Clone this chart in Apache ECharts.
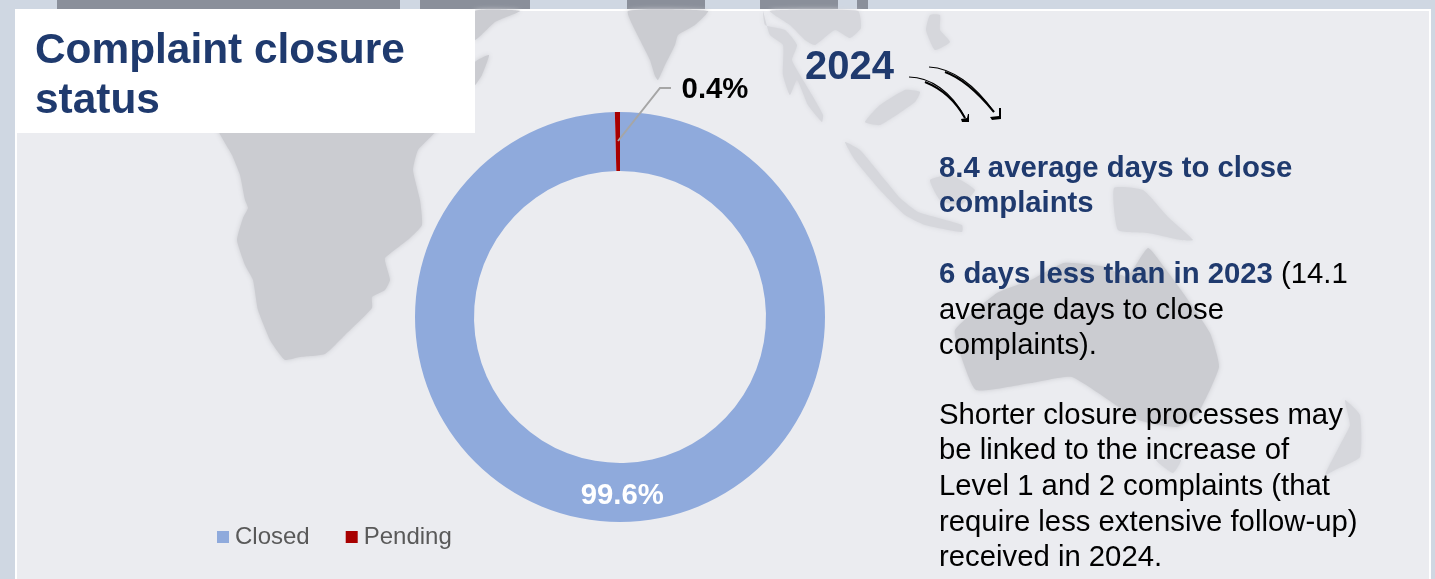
<!DOCTYPE html>
<html>
<head>
<meta charset="utf-8">
<title>Complaint closure status</title>
<script src="https://cdn.jsdelivr.net/npm/echarts@6/dist/echarts.min.js"></script>
<style>
html, body { margin: 0; padding: 0; background: #cfd7e2; }
#chart { width: 1435px; height: 579px; }
</style>
</head>
<body>
<div id="chart"></div>
<script>
var categories = ['Closed', 'Pending'];
var values = [99.6, 0.4];
var colors = ['#8faadc', '#a80000'];
var heading = 'Complaint closure\nstatus';
var yearLabel = '2024';
var para1 = ['8.4 average days to close', 'complaints'];
var para2Bold = '6 days less than in 2023';
var para2Rest = ' (14.1';
var para2 = ['average days to close', 'complaints).'];
var para3 = [
    'Shorter closure processes may',
    'be linked to the increase of',
    'Level 1 and 2 complaints (that',
    'require less extensive follow-up)',
    'received in 2024.'
];

var navy = '#1f3a6e';
var font = '"Liberation Sans", Arial, sans-serif';
var landColor = '#cbccd1';
var islandColor = '#d6d7dc';

// background map, just decoration behind the chart
var land = [
    { c: landColor, p: [[215,120],[232,155],[240,175],[245,200],[248,208],[243,218],[237,240],[245,265],[253,280],[258,310],[270,340],[278,352],[285,360],[300,357],[325,354],[345,335],[372,308],[372,297],[385,290],[390,280],[386,265],[385,258],[410,238],[422,225],[420,200],[413,170],[418,150],[440,125]] },
    { c: landColor, p: [[628,11],[640,40],[650,60],[655,76],[658,80],[665,65],[675,45],[678,35],[695,25],[708,11]] },
    { c: landColor, p: [[475,11],[520,11],[495,22],[475,40]] },
    { c: landColor, p: [[475,62],[489,55],[482,75],[475,85]] },
    { c: islandColor, p: [[763,11],[765,25],[785,30],[797,45],[792,60],[800,75],[812,95],[823,115],[822,122],[808,105],[797,80],[790,95],[783,75],[783,45],[770,35]] },
    { c: islandColor, p: [[770,11],[858,11],[861,28],[850,38],[835,30],[815,45],[805,40],[790,25]] },
    { c: islandColor, p: [[930,15],[940,15],[940,30],[950,42],[935,50],[926,30]] },
    { c: islandColor, p: [[905,90],[920,92],[915,102],[880,125],[865,122],[880,105]] },
    { c: islandColor, p: [[845,142],[860,150],[885,180],[900,198],[918,212],[962,225],[962,232],[925,225],[905,215],[880,190],[855,160]] },
    { c: islandColor, p: [[930,180],[950,175],[975,190],[960,205],[940,200]] },
    { c: islandColor, p: [[1114,188],[1143,190],[1168,217],[1193,240],[1181,240],[1148,233],[1118,230]] },
    { c: landColor, p: [[1148,248],[1164,267],[1181,290],[1210,333],[1219,367],[1198,413],[1177,427],[1139,420],[1072,377],[1031,383],[976,390],[960,353],[955,330],[997,293],[1031,280],[1064,263],[1106,267],[1127,277]] },
    { c: islandColor, p: [[1156,460],[1181,460],[1173,473]] },
    { c: islandColor, p: [[1345,400],[1360,415],[1360,457],[1335,470],[1325,475],[1340,445],[1350,425]] }
];
var topBands = [[57,400],[420,530],[627,705],[760,838],[857,868]];

var graphics = [];
topBands.forEach(function (b) {
    graphics.push({ type: 'rect', silent: true, shape: { x: b[0], y: 0, width: b[1] - b[0], height: 9 }, style: { fill: '#8a8f9a' } });
});
graphics.push({ type: 'rect', silent: true, shape: { x: 15, y: 9, width: 1416, height: 570 }, style: { fill: '#ffffff' } });
graphics.push({ type: 'rect', silent: true, shape: { x: 17, y: 11, width: 1412, height: 568 }, style: { fill: '#ebecf0' } });
land.forEach(function (l) {
    graphics.push({
        type: 'polygon', silent: true,
        shape: { points: l.p, smooth: 0.15 },
        style: { fill: l.c, shadowBlur: 5, shadowColor: l.c }
    });
});
graphics.push({ type: 'rect', silent: true, shape: { x: 15, y: 9, width: 460, height: 124 }, style: { fill: '#ffffff' } });

// leader line of the 0.4% label starts in the middle of the ring
graphics.push({
    type: 'polyline', silent: true, z: 5,
    shape: { points: [[618,141],[660,88],[671,88]] },
    style: { stroke: '#a6a6a6', lineWidth: 2, fill: null }
});

// hand drawn arrows next to the year
function curve(x1, y1, cx1, cy1, cx2, cy2, x2, y2, w) {
    graphics.push({
        type: 'bezierCurve', silent: true, z: 5,
        shape: { x1: x1, y1: y1, cpx1: cx1, cpy1: cy1, cpx2: cx2, cpy2: cy2, x2: x2, y2: y2 },
        style: { stroke: '#000000', lineWidth: w, fill: null }
    });
}
function head(points) {
    graphics.push({
        type: 'polygon', silent: true, z: 5,
        shape: { points: points },
        style: { fill: '#000000' }
    });
}
curve(909, 77, 930, 77, 952, 92, 965, 118, 1.2);
curve(925, 82, 940, 88, 955, 100, 965, 118, 2);
curve(929, 67, 952, 68, 975, 85, 994, 112, 1.2);
curve(945, 72, 962, 78, 980, 95, 994, 112, 2);
head([[961,119],[967,118],[968,114],[969,114],[969,122],[962,122]]);
head([[990,117],[999,116],[999,108],[1001,108],[1001,119],[992,120]]);

function textBlock(x, y, lines, bold, color) {
    graphics.push({
        type: 'text', silent: true, z: 6,
        style: {
            x: x, y: y, text: lines.join('\n'),
            font: (bold ? 'bold ' : '') + '29.3px ' + font,
            lineHeight: 35.6, fill: color
        }
    });
}
textBlock(939, 151, para1, true, navy);
graphics.push({
    type: 'text', silent: true, z: 6,
    style: {
        x: 939, y: 257,
        text: '{b|' + para2Bold + '}{r|' + para2Rest + '}',
        rich: {
            b: { font: 'bold 29.3px ' + font, fill: navy, lineHeight: 35.6 },
            r: { font: '29.3px ' + font, fill: '#000000', lineHeight: 35.6 }
        }
    }
});
textBlock(939, 293, para2, false, '#000000');
textBlock(939, 398, para3, false, '#000000');

var myChart = echarts.init(document.getElementById('chart'));

var option = {
    animation: false,
    title: [
        {
            text: heading, left: 30, top: 21,
            textStyle: { color: navy, fontFamily: font, fontWeight: 'bold', fontSize: 42.4, lineHeight: 50 }
        },
        {
            text: yearLabel, left: 800, top: 43,
            textStyle: { color: navy, fontFamily: font, fontWeight: 'bold', fontSize: 40 }
        }
    ],
    legend: {
        data: categories,
        left: 212, top: 520,
        itemWidth: 12, itemHeight: 12, itemGap: 36,
        icon: 'rect',
        textStyle: { color: '#595959', fontFamily: font, fontSize: 24, padding: [0, 0, 0, 1] }
    },
    graphic: graphics,
    series: [
        {
            type: 'pie',
            radius: [146, 205],
            center: [620, 317],
            startAngle: 90,
            clockwise: true,
            avoidLabelOverlap: false,
            silent: true,
            labelLine: { show: false },
            labelLayout: function (params) {
                if (params.dataIndex === 1) {
                    return { x: 715, y: 90, align: 'center', verticalAlign: 'middle' };
                }
            },
            data: categories.map(function (name, i) {
                return {
                    name: name,
                    value: values[i],
                    itemStyle: { color: colors[i] },
                    label: {
                        show: true,
                        position: i === 0 ? 'inside' : 'outside',
                        formatter: '{d}%',
                        color: i === 0 ? '#ffffff' : '#000000',
                        fontFamily: font,
                        fontWeight: 'bold',
                        fontSize: 29.3
                    }
                };
            })
        }
    ]
};

myChart.setOption(option);
</script>
</body>
</html>
